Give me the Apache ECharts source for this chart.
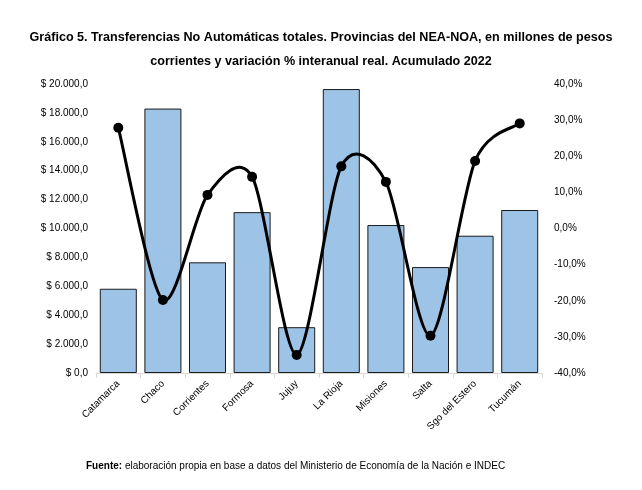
<!DOCTYPE html>
<html>
<head>
<meta charset="utf-8">
<script src="https://cdn.jsdelivr.net/npm/echarts@6/dist/echarts.min.js"></script>
<style>
  html, body { margin: 0; padding: 0; background: #fff; }
  #chart { width: 642px; height: 490px; }
</style>
</head>
<body>
<div id="chart"></div>
<script>
	// datos
	var provincias = ['Catamarca', 'Chaco', 'Corrientes', 'Formosa', 'Jujuy', 'La Rioja', 'Misiones', 'Salta', 'Sgo del Estero', 'Tucumán'];
	var montos = [5830, 18300, 7660, 11130, 3170, 19650, 10240, 7330, 9500, 11280];
	var variacion = [27.9, -19.8, 9.3, 14.3, -35.0, 17.2, 12.9, -29.7, 18.7, 29.1];

	var myChart = echarts.init(document.getElementById('chart'));

	function pesos(v) {
		var s = Math.round(v).toString().replace(/\B(?=(\d{3})+(?!\d))/g, '.');
		return '$ ' + s + ',0';
	}
	function pct(v) {
		return v.toFixed(1).replace('.', ',') + '%';
	}

	// curva suavizada tipo Excel (Catmull-Rom) sobre las coordenadas del eje
	var tension = 1 / 7;
	function punto(api, j) {
		j = Math.max(0, Math.min(variacion.length - 1, j));
		return api.coord([j, variacion[j]]);
	}
	function renderCurva(params, api) {
		var i = params.dataIndex;
		var p1 = punto(api, i);
		var children = [];
		if (i < variacion.length - 1) {
			var p0 = punto(api, i - 1), p2 = punto(api, i + 1), p3 = punto(api, i + 2);
			var c1 = [p1[0] + (p2[0] - p0[0]) * tension, p1[1] + (p2[1] - p0[1]) * tension];
			var c2 = [p2[0] - (p3[0] - p1[0]) * tension, p2[1] - (p3[1] - p1[1]) * tension];
			children.push({
				type: 'path',
				shape: { pathData: 'M' + p1[0] + ' ' + p1[1] + ' C' + c1[0] + ' ' + c1[1] + ' ' + c2[0] + ' ' + c2[1] + ' ' + p2[0] + ' ' + p2[1] },
				style: { fill: null, stroke: '#000', lineWidth: 3 }
			});
		}
		children.push({
			type: 'circle',
			shape: { cx: p1[0], cy: p1[1], r: 5 },
			style: { fill: '#000' },
			z2: 10
		});
		return { type: 'group', children: children };
	}

	var option = {
		animation: false,
		textStyle: { fontFamily: 'Liberation Sans, Arial, sans-serif' },
		title: [{
			text: 'Gráfico 5. Transferencias No Automáticas totales. Provincias del NEA-NOA, en millones de pesos\ncorrientes y variación % interanual real. Acumulado 2022',
			left: 'center',
			top: 21,
			textStyle: { fontSize: 12.6, fontWeight: 'bold', color: '#000', lineHeight: 24, align: 'center' }
		}, {
			text: '{b|Fuente:} elaboración propia en base a datos del Ministerio de Economía de la Nación e INDEC',
			left: 81,
			top: 456,
			textStyle: {
				fontSize: 10, fontWeight: 'normal', color: '#000',
				rich: { b: { fontSize: 10, fontWeight: 'bold', color: '#000' } }
			}
		}],
		grid: { left: 96, right: 100, top: 84, bottom: 117 },
		xAxis: {
			type: 'category',
			data: provincias,
			axisLine: { lineStyle: { color: '#d9d9d9' } },
			axisTick: { show: true, lineStyle: { color: '#d9d9d9' } },
			axisLabel: { rotate: 45, fontSize: 10, color: '#000', margin: 9 }
		},
		yAxis: [{
			type: 'value',
			min: 0, max: 20000, interval: 2000,
			splitLine: { show: false },
			axisLine: { show: false },
			axisLabel: { fontSize: 10, color: '#000', formatter: pesos }
		}, {
			type: 'value',
			min: -40, max: 40, interval: 10,
			splitLine: { show: false },
			axisLine: { show: false },
			axisLabel: { fontSize: 10, color: '#000', formatter: pct, margin: 12 }
		}],
		series: [{
			type: 'bar',
			data: montos,
			z: 2,
			barCategoryGap: '17%',
			itemStyle: { color: '#9dc3e6', borderColor: '#1a1a1a', borderWidth: 1 }
		}, {
			type: 'custom',
			yAxisIndex: 1,
			z: 5,
			data: variacion.map(function (v, i) { return [i, v]; }),
			encode: { x: 0, y: 1 },
			renderItem: renderCurva,
			clip: false
		}]
	};

	myChart.setOption(option);
</script>
</body>
</html>
